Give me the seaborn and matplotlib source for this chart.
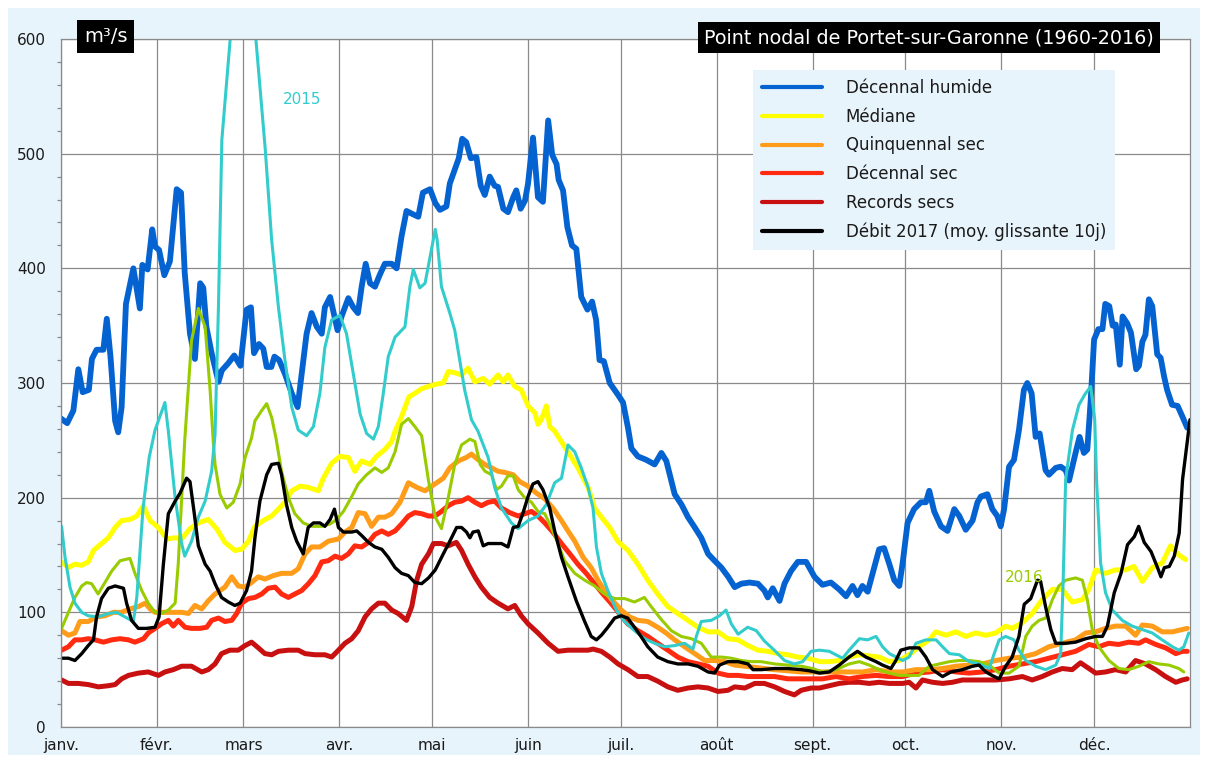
import matplotlib
matplotlib.use("Agg")
import matplotlib.pyplot as plt
from matplotlib.patches import Rectangle
from matplotlib.ticker import MultipleLocator
import numpy as np
import pandas as pd
import seaborn as sns

# ---------------- data (day of year, m3/s) ----------------
MONTHS = ["janv.", "févr.", "mars", "avr.", "mai", "juin", "juil.", "août",
          "sept.", "oct.", "nov.", "déc."]
MONTH_START = [0, 31, 59, 90, 120, 151, 181, 212, 243, 273, 304, 334]
Y_TICKS = [0, 100, 200, 300, 400, 500, 600]

HUMIDE = [(0,269),(2,265),(4,276),(5.6,312),(7,292),(9,294),(10,321),(11.5,329),(13.7,329),(14.8,356),(16,323),(17.5,267),(18.5,257),(19.6,279),(21,369),(23.4,400),(25.5,365),(26.3,403),(28,399),(29.5,434),(30.4,419),(31.7,416),(33.4,394),(35.2,406),(37.4,469),(38.8,466),(40,396),(41.7,343),(43.3,321),(45,387),(46,383),(47,349),(48.7,326),(50.9,301),(52,311),(54,317),(56,324),(58,315),(60,364),(61.4,366),(62.4,326),(64,334),(65.4,330),(66.5,314),(68,314),(69,323),(70.5,320),(72.4,308),(74.6,291),(76.5,279),(77.8,308),(79.4,343),(81,361),(82.7,349),(84.3,343),(85.3,366),(87,375),(88.4,358),(89.4,346),(90.7,358),(92.9,374),(94.5,366),(96,361),(97.2,384),(98.5,404),(99.9,387),(101.5,384),(103,394),(104.7,404),(106.9,404),(108.5,400),(110.1,428),(111.7,450),(113.9,447),(115.5,445),(117,466),(119.3,469),(121,457),(122.5,451),(124.6,454),(125.7,474),(127.3,486),(128.6,496),(129.7,513),(131,510),(132.5,496),(134.3,497),(135.7,472),(137,464),(138.6,480),(140.2,472),(141.3,471),(143,452),(144.5,449),(146.2,462),(147.2,468),(148.6,452),(150,459),(151,474),(152.6,514),(154.2,462),(155.8,458),(157.5,529),(158.8,499),(160.2,491),(160.9,477),(162.3,468),(163.7,436),(165.2,420),(166.6,417),(168.2,375),(170.2,364),(171.7,371),(173,355),(174.1,320),(175.5,319),(177.4,300),(180,290),(181.7,283),(183.3,261),(184.4,243),(186.5,236),(189.2,233),(191.9,229),(194.1,239),(195.7,232),(198.4,203),(200.6,194),(202.7,183),(204.9,174),(207,165),(209.2,151),(211.3,145),(213.5,139),(215.7,131),(217.8,122),(220,125),(222.6,126),(225.3,125),(227.4,119),(228.5,113),(230.1,121),(232.3,110),(233.9,125),(236,136),(238.2,144),(240.9,144),(243.6,131),(246.2,124),(248.9,126),(251.6,120),(253.8,114),(255.9,123),(257.5,115),(259.1,123),(260.8,118),(262.4,134),(264.5,155),(266.1,156),(267.8,142),(269.4,128),(271,123),(272.1,143),(273.7,178),(275.8,190),(278,196),(279.6,196),(280.7,206),(282.3,188),(284.5,175),(286.6,171),(288.8,190),(290.4,184),(292.5,172),(294.7,180),(296.3,196),(297.4,201),(299.5,203),(301.1,190),(302.7,184),(303.8,175),(304.9,190),(306.5,227),(308.1,233),(309.7,259),(311.3,294),(312.4,300),(313.8,291),(315.1,253),(316.4,256),(318.3,224),(319.4,220),(321.6,226),(323.2,227),(324.8,224),(325.9,215),(328,239),(329.3,253),(330.7,239),(331.8,242),(332.9,285),(334,338),(335.4,347),(336.7,347),(337.6,369),(338.9,367),(340,350),(341,351),(342.3,316),(343.2,358),(344.7,352),(345.9,344),(347.6,312),(348.5,315),(349.6,336),(350.6,342),(351.7,373),(352.8,367),(354.4,325),(355.5,322),(356.6,306),(357.6,294),(359.2,281),(361,280),(362.5,271),(364.1,261)]

MEDIANE = [(0.2,144),(2.4,139),(4.5,142),(6.7,141),(8.8,144),(10.5,154),(13.1,160),(15.3,165),(17.5,174),(19.6,180),(22.3,181),(24.5,184),(26.6,193),(28.8,180),(31.5,174),(34.2,164),(36.9,165),(39,164),(41.7,173),(44.4,178),(47.6,181),(50.3,173),(53,161),(56.2,154),(58.4,155),(60.6,162),(62.7,175),(65.4,180),(68.1,184),(70.3,190),(72.4,196),(74.6,206),(77.3,210),(79.9,209),(83.2,206),(84.8,217),(87.5,230),(90.2,236),(92.9,235),(95,223),(97.2,232),(99.9,229),(102,236),(104.7,242),(106.9,249),(108,258),(110,270),(112.5,288),(114.4,291),(116.6,295),(118.8,297),(121.4,299),(123.6,300),(125.2,310),(127.3,309),(129.5,307),(131.6,313),(133.8,301),(136.5,304),(138.6,299),(141.3,307),(143,301),(144.5,307),(146.7,297),(148.8,294),(151,280),(153.2,274),(154.2,264),(155.3,268),(156.9,280),(158,262),(159.6,258),(163.9,240),(167.1,226),(170.4,209),(172.5,191),(174.7,183),(177.4,174),(180,162),(183.3,154),(186.5,142),(189.7,128),(192.9,116),(196.2,105),(199.4,99),(202.7,93),(205.9,87),(209.2,83),(212.4,83),(215.6,77),(218.9,76),(222.1,71),(225.3,67),(228.5,66),(231.8,64),(235,63),(238.2,61),(241.5,60),(245.2,57),(248.4,57),(251.6,58),(254.8,61),(258.1,63),(261.3,62),(264.5,61),(267.8,57),(271,58),(274.2,63),(277.4,70),(280.7,76),(282.8,83),(286.1,80),(289.3,83),(292.5,79),(295.7,82),(299,80),(302.2,82),(305.4,88),(307.5,86),(310.8,91),(314,99),(317.2,111),(320.5,120),(323.7,120),(326.9,109),(330.2,111),(332.3,120),(334.5,137),(337.7,134),(340.9,137),(344.2,137),(346.9,140),(349.6,127),(352.8,139),(356,143),(358.7,158),(361.4,150),(363.6,146)]

QUINQ_SEC = [(0.2,84),(2.4,80),(4.5,82),(6.1,92),(8.8,92),(11.5,96),(14.2,97),(16.9,100),(19.6,100),(22.3,103),(25,105),(27.2,108),(28.8,103),(30.4,100),(33.6,100),(36.9,100),(39,100),(41.2,99),(43.3,106),(45.5,103),(47.6,110),(49.8,116),(53,122),(55.2,131),(57.3,123),(59.5,122),(61.6,126),(63.8,131),(65.9,129),(68.6,132),(71.3,134),(74.6,134),(76.7,138),(78.9,151),(81,157),(83.7,157),(86.4,162),(89.7,164),(91.8,170),(94,174),(96.1,187),(98.3,186),(100.4,175),(102.6,183),(104.7,183),(106.9,186),(109.6,196),(112.3,213),(115,209),(117.7,206),(120.9,212),(123.6,217),(125.7,226),(128.4,232),(131,235),(132.7,238),(134.9,233),(137,229),(139.2,226),(141.3,223),(143.5,222),(146.2,220),(148.3,214),(151,210),(153.7,204),(156.4,199),(159,191),(161.8,180),(163.9,171),(166.1,162),(168.8,148),(171.4,139),(173.6,128),(175.7,119),(178.4,110),(181.1,102),(183.8,96),(186.5,93),(189.7,92),(192.9,87),(195.6,82),(198.4,76),(201.6,70),(204.9,64),(208.1,58),(211.3,58),(214.6,57),(217.8,54),(221.1,53),(224.3,52),(227.4,51),(230.7,50),(235,49),(239.3,48),(244,48),(250.5,48),(254.8,48),(259.1,48),(263.5,50),(267.8,48),(272.1,48),(276.4,50),(280.7,50),(285,51),(289.3,53),(293.6,54),(297.9,55),(302.2,58),(306.5,60),(310.8,61),(315.1,64),(319.4,70),(323.7,73),(328,76),(331.3,82),(334.5,83),(337.7,86),(340.9,88),(344.2,88),(347.4,80),(349.6,89),(352.8,88),(356,83),(359.3,83),(362.5,85),(364.1,86)]

DEC_SEC = [(0.2,67),(2.4,70),(4.5,76),(6.7,76),(8.8,77),(11,76),(13.7,74),(16.4,76),(19.1,77),(21.8,76),(23.9,74),(26.7,77),(28.2,82),(30.4,86),(32.5,90),(34.7,93),(36.3,88),(37.9,93),(40.1,87),(42.2,86),(44.9,86),(47.1,87),(48.7,93),(50.9,95),(53,92),(55.2,93),(56.8,99),(58.4,108),(60.6,112),(62.7,113),(64.9,116),(67,121),(69.2,122),(71.3,116),(73.5,113),(75.6,116),(77.8,119),(80,125),(82.1,132),(84.3,144),(86.4,145),(88.6,149),(90.7,147),(92.9,151),(95,158),(97.2,157),(99.4,161),(101.5,168),(103.7,171),(105.8,168),(108,171),(110.1,177),(112.3,184),(114.4,187),(116.6,186),(118.8,184),(120.9,184),(123,188),(125.2,193),(127.3,196),(129.5,197),(131.6,200),(133.8,196),(135.9,193),(138.1,196),(140.2,197),(142.4,191),(145,187),(147.8,184),(149.9,186),(152.1,188),(154.2,184),(156.4,178),(159,170),(161.8,160),(164.5,151),(167.1,142),(169.8,134),(172.5,125),(175.2,116),(177.8,108),(180.5,99),(183.2,90),(186.5,84),(189.7,79),(192.9,73),(196.2,67),(199.4,61),(202.7,57),(205.9,55),(209.2,53),(212.4,47),(215.6,45),(218.9,45),(222.1,44),(226.4,44),(230.7,44),(235,42),(239.3,42),(243,42),(246.2,42),(250.5,44),(254.8,42),(259.1,44),(263.5,45),(267.8,44),(272.1,44),(276.4,47),(280.7,48),(285,50),(289.3,48),(293.6,47),(297.9,48),(302.2,50),(306.5,53),(310.8,55),(315.1,57),(319.4,60),(323.7,63),(328,66),(332.3,72),(335.5,70),(338.7,73),(341.9,72),(345.2,74),(348.5,73),(350.6,76),(353.9,72),(357.1,69),(360.4,64),(362.5,66),(364.1,66)]

RECORDS = [(0.2,41),(2.4,38),(5.6,38),(8.8,37),(12.1,35),(15.3,36),(17.5,37),(19.6,42),(21.8,45),(25,47),(28.2,48),(31.5,45),(33.6,48),(36.3,50),(39,53),(42.2,53),(45.5,48),(47.6,50),(49.8,55),(51.9,64),(54.6,67),(57.3,67),(59.5,71),(61.6,74),(63.8,69),(65.9,64),(68.1,63),(70.3,66),(73.5,67),(76.7,67),(78.9,64),(82.1,63),(85.3,63),(87.5,61),(89.7,67),(91.8,73),(94,77),(96.1,84),(98.3,96),(100.4,103),(102.6,108),(104.7,108),(106.9,102),(109,99),(111.7,93),(113.4,105),(115,128),(116.6,142),(118.8,151),(120.4,160),(123,160),(125.2,158),(127.8,161),(129.5,154),(131.6,142),(133.8,131),(135.9,122),(138.6,113),(141.3,108),(144.5,103),(146.7,106),(148.8,97),(151,90),(154.2,82),(157.5,73),(160.7,66),(163.9,67),(167.1,67),(170.4,67),(172,68),(174.7,66),(177.4,61),(180.1,55),(183.3,50),(186.5,44),(189.7,44),(192.9,40),(196.2,35),(199.4,32),(202.7,34),(205.9,35),(209.2,34),(212.4,31),(215.6,32),(217.8,35),(221.1,34),(224.3,38),(227.4,38),(230.7,35),(233.9,31),(237.1,28),(239.3,32),(242.5,34),(245.2,34),(248.4,36),(251.6,38),(254.8,39),(258.1,39),(261.3,38),(264.5,39),(267.8,38),(272.1,38),(274.2,39),(276.4,34),(278.5,41),(281.8,39),(285,38),(288.2,39),(291.4,41),(294.7,41),(297.9,41),(302.2,41),(306.5,42),(310.8,44),(314,41),(317.2,44),(320.5,48),(323.7,51),(326.9,50),(329.6,56),(332.3,51),(334.5,47),(337.7,48),(340.9,50),(344.2,48),(347.4,58),(350.6,55),(353.9,50),(357.1,44),(360.4,39),(362.5,41),(364.1,42)]

DEBIT_2017 = [(0.2,60),(2.4,60),(4.5,58),(6.7,64),(8.8,71),(10.5,76),(11.5,96),(13.1,112),(15.3,121),(17.5,123),(20.2,121),(21.2,108),(22.8,93),(25,86),(27.7,86),(30.4,87),(31.7,96),(33.1,142),(34.7,186),(36.9,197),(38.5,204),(40.6,217),(41.7,214),(43.1,186),(44.4,158),(46.6,142),(48.2,136),(49.8,125),(51.9,113),(54.1,109),(56.2,106),(57.9,108),(60,119),(61.6,136),(62.7,165),(64.3,197),(66.5,220),(68.1,229),(70.3,230),(71.3,220),(72.9,194),(74.6,174),(76.2,162),(78.3,151),(79.9,174),(81.6,178),(83.7,178),(85.3,175),(87,181),(88.4,190),(89.7,174),(91.3,170),(94,170),(95.6,171),(97.2,167),(99.4,161),(101.5,157),(103.7,155),(105.8,148),(108,139),(110.1,134),(112.3,132),(114.4,126),(116.6,125),(118.8,130),(121,137),(123.6,151),(125.7,162),(127.9,174),(129.5,174),(131.1,170),(132.2,165),(133.2,170),(134.9,171),(136.5,158),(138.1,160),(140.2,160),(142.4,160),(144.5,157),(146.2,174),(147.8,175),(149.4,187),(151,201),(152.6,212),(154.2,214),(155.8,207),(158,191),(159.6,171),(161.8,148),(163.9,131),(166.6,110),(169.3,92),(171.4,79),(173.1,76),(174.7,80),(176.8,87),(179,95),(181.1,97),(183.2,95),(185.4,87),(187.5,79),(189.7,70),(192.9,61),(196.2,57),(199.4,55),(202.7,55),(205.9,53),(209.2,48),(211.3,47),(212.9,54),(215.6,57),(218.9,57),(222.1,55),(223.7,50),(226.4,50),(230.7,51),(235,51),(239.3,50),(242,49),(245.2,47),(248.4,48),(251.6,54),(254.8,61),(257.5,66),(260.2,61),(263.5,57),(265.6,54),(268.3,51),(269.9,58),(271.5,67),(274.2,69),(277.4,69),(279.6,61),(281.8,50),(285,44),(287.7,48),(291.4,50),(294.7,53),(296.8,54),(299,48),(301.7,44),(303.3,42),(305.4,53),(307.5,61),(309.7,79),(311.4,107),(313.5,112),(315.7,128),(316.7,127),(318.3,105),(320,85),(321.6,73),(324.8,73),(328,74),(331.3,77),(334.5,79),(336.7,79),(338.3,88),(340.5,117),(342.7,134),(344.8,159),(347,166),(348.4,175),(350.2,161),(352.4,153),(354.5,139),(355.6,131),(356.7,139),(358.3,140),(359.9,149),(361.5,169),(362.6,216),(365,268)]

ANNEE_2015 = [(0.2,175),(1.3,148),(2.9,122),(4.5,108),(6.7,100),(8.8,97),(12,96),(15.3,99),(18,100),(20.7,96),(23.4,92),(24.5,113),(26.5,190),(28.5,235),(30.4,259),(33.6,283),(34.7,258),(36.9,200),(39,160),(40,149),(42.2,162),(44.4,183),(46.6,197),(48.7,223),(49.8,255),(50.9,366),(52,512),(54.7,600),(59,720),(63,600),(66,505),(68.1,425),(70.3,366),(72.4,320),(74.6,279),(76.7,259),(79.4,254),(81.6,262),(83.7,291),(85.3,331),(87.5,355),(90.2,359),(92.3,343),(94.5,308),(96.7,273),(98.8,256),(101,251),(102.6,262),(104.2,291),(105.8,323),(108,340),(111.2,349),(112.8,384),(113.9,399),(116,383),(117.7,387),(119.3,410),(121,434),(121.6,425),(123,384),(125.7,361),(127.3,346),(128.9,320),(130.5,294),(132.7,268),(134.8,258),(138.1,235),(140.2,209),(142.4,191),(145.6,178),(147.8,173),(151,180),(154.2,184),(156.9,194),(159.6,213),(161.8,217),(163.9,246),(166.1,240),(168.2,226),(170.4,209),(172,191),(173.1,157),(174.7,134),(176.8,119),(179.5,102),(182.2,92),(185.4,84),(188.7,77),(191.9,73),(195.1,70),(198.4,71),(201.6,73),(204.3,68),(205.4,79),(207,92),(210.2,93),(212.9,97),(215,102),(216.7,90),(218.9,81),(222,87),(224.8,84),(227.4,75),(230.6,67),(233.9,58),(237.1,55),(239.8,57),(242.5,66),(245.2,67),(248.4,66),(250.5,63),(252.7,60),(254.8,67),(258.1,77),(260.8,76),(263.5,79),(265.6,70),(267.8,64),(270,61),(272.1,58),(274.2,61),(276.4,73),(279.6,76),(282.9,76),(285,70),(287.2,64),(290.4,63),(293.6,57),(296.8,55),(300.1,51),(301.7,64),(303.3,76),(305.4,79),(308.1,76),(309.7,67),(311.9,58),(315.1,53),(318.3,50),(321.6,54),(323.2,64),(324,128),(324.8,216),(327,259),(329.1,281),(331,290),(332.9,297),(334.2,268),(334.8,215),(336.1,143),(337.7,117),(339.9,102),(343.1,93),(346.3,88),(349.6,85),(352.8,82),(356,76),(359.3,70),(361.4,67),(363,70),(364.6,82)]

ANNEE_2016 = [(0.2,86),(2.4,100),(4.5,113),(6.7,123),(8.3,126),(9.9,125),(12,116),(14.2,126),(16.4,136),(19.1,145),(22.3,147),(23.9,134),(26.1,119),(28.2,108),(30.4,100),(32.5,99),(34.7,102),(36.9,108),(37.9,142),(40,250),(42.2,337),(44.4,365),(46.6,349),(48.2,294),(49.2,250),(49.8,229),(51.4,203),(53.6,191),(55.7,196),(57.9,212),(59.5,235),(61.6,252),(62.7,267),(64.9,276),(66.5,282),(68.1,270),(69.5,252),(71.3,223),(73.5,200),(75.6,186),(78.3,178),(81,175),(84.3,175),(87,177),(89.1,181),(91.3,188),(94,201),(96.1,212),(98.8,220),(101.5,226),(103.7,222),(105.8,226),(108,240),(110.1,264),(112.3,269),(114.4,262),(116.6,254),(118.8,215),(121,183),(123,173),(125.2,200),(127.3,229),(129.5,246),(132.2,251),(133.8,249),(135.5,229),(137.1,223),(139.2,220),(140.8,207),(142.4,210),(144.5,219),(146.2,219),(147.8,207),(149.9,200),(152.1,196),(154.2,188),(156.4,186),(158.5,174),(160.7,160),(162.8,145),(166.1,134),(169.3,128),(172.5,123),(175.7,116),(179,112),(182.2,112),(185.4,109),(188.6,113),(190.8,105),(194,94),(197.3,84),(200.5,79),(203.8,77),(207,73),(210.2,61),(213.5,61),(216.7,60),(219.9,58),(223.1,57),(226.4,57),(230.7,55),(235,54),(239.3,53),(243,51),(246.2,48),(250.5,50),(254.8,55),(258.1,57),(261.3,54),(264.5,50),(267.8,47),(271,45),(274.2,45),(277.4,45),(280.7,53),(283.9,55),(287.2,57),(290.4,58),(293.6,58),(296.8,57),(300.1,54),(303.3,47),(306.5,47),(309.7,53),(311.9,79),(314,88),(316.2,93),(318.3,95),(320.5,111),(322.6,123),(324.8,128),(328,130),(330.2,128),(331.8,111),(333.4,85),(335.5,70),(338.8,58),(342,51),(345.2,50),(348.5,53),(351.7,57),(354.9,55),(358.2,54),(361.4,51),(363,48)]

LEGEND_ORDER = ["Décennal humide", "Médiane", "Quinquennal sec", "Décennal sec",
                "Records secs", "Débit 2017 (moy. glissante 10j)"]

# ---------------- style ----------------
sns.set_style("white")
plt.rcParams["font.family"] = ["DejaVu Sans"]

W, H = 1208, 760
fig = plt.figure(figsize=(W / 100, H / 100), dpi=100)
fig.patch.set_facecolor("white")
fig.patches.append(Rectangle((8 / W, 5 / H), (1200 - 8) / W, (752 - 5) / H,
                             transform=fig.transFigure, facecolor="#e8f4fc",
                             edgecolor="none", zorder=-10))

ax = fig.add_axes([61 / W, 1 - 727 / H, (1190 - 61) / W, (727 - 39) / H])
ax.set_facecolor("white")


def frame(pairs):
    return pd.DataFrame(pairs, columns=["jour", "debit"])


series = [
    (RECORDS, "Records secs", "#c81010", 3.6),
    (DEC_SEC, "Décennal sec", "#ff2a10", 3.6),
    (QUINQ_SEC, "Quinquennal sec", "#ff9c1a", 3.6),
    (MEDIANE, "Médiane", "#ffff00", 3.6),
    (HUMIDE, "Décennal humide", "#0563d1", 4.2),
]
for data, lab, col, lw in series:
    sns.lineplot(data=frame(data), x="jour", y="debit", color=col, linewidth=lw,
                 label=lab, estimator=None, sort=False, ax=ax)

sns.lineplot(data=frame(ANNEE_2016), x="jour", y="debit", color="#99cc00",
             linewidth=2.2, estimator=None, sort=False, ax=ax, legend=False)
sns.lineplot(data=frame(ANNEE_2015), x="jour", y="debit", color="#33cccc",
             linewidth=2.2, estimator=None, sort=False, ax=ax, legend=False)
sns.lineplot(data=frame(DEBIT_2017), x="jour", y="debit", color="black",
             linewidth=2.4, label="Débit 2017 (moy. glissante 10j)",
             estimator=None, sort=False, ax=ax)

ax.set_xlim(0, 365)
ax.set_ylim(0, 600)
ax.set_xlabel("")
ax.set_ylabel("")
ax.set_xticks(MONTH_START)
ax.set_xticklabels(MONTHS)
ax.set_yticks(Y_TICKS)
ax.yaxis.set_minor_locator(MultipleLocator(20))
ax.grid(True, which="major", color="#8a8a8a", linewidth=0.9)
ax.set_axisbelow(True)
for s in ax.spines.values():
    s.set_color("#8a8a8a")
    s.set_linewidth(0.9)
ax.tick_params(axis="both", which="major", direction="out", length=6, width=0.9,
               color="#8a8a8a", labelsize=11, labelcolor="#1a1a1a", pad=5)
ax.tick_params(axis="y", which="minor", direction="out", length=3, width=0.9,
               color="#8a8a8a", left=True)
ax.tick_params(axis="x", which="major", length=5, pad=3)

# annotations
ax.text(78, 547, "2015", color="#33cccc", fontsize=11, ha="center", va="center")
ax.text(311.5, 130, "2016", color="#99cc00", fontsize=11, ha="center", va="center")

# title boxes
fig.text(929 / W, 1 - 37.5 / H, "Point nodal de Portet-sur-Garonne (1960-2016)",
         color="white", fontsize=13.8, ha="center", va="center",
         bbox=dict(boxstyle="square,pad=0.3", facecolor="black", edgecolor="none"))
fig.text(105.5 / W, 1 - 36.5 / H, "m³/s", color="white", fontsize=14,
         ha="center", va="center",
         bbox=dict(boxstyle="square,pad=0.35", facecolor="black", edgecolor="none"))

# legend
handles, labels = ax.get_legend_handles_labels()
hmap = dict(zip(labels, handles))
leg = ax.legend([hmap[l] for l in LEGEND_ORDER], LEGEND_ORDER,
                loc="upper left", bbox_to_anchor=(753 / W, 1 - 70 / H),
                bbox_transform=fig.transFigure, frameon=True, fancybox=False,
                facecolor="#e8f4fc", edgecolor="none", framealpha=1,
                fontsize=12, handlelength=3.6, handletextpad=1.4,
                labelspacing=0.64, borderpad=0.55, borderaxespad=0)
for ln in leg.get_lines():
    ln.set_linewidth(3.0)
for t in leg.get_texts():
    t.set_color("#1a1a1a")

fig.savefig("out.png", dpi=100)
